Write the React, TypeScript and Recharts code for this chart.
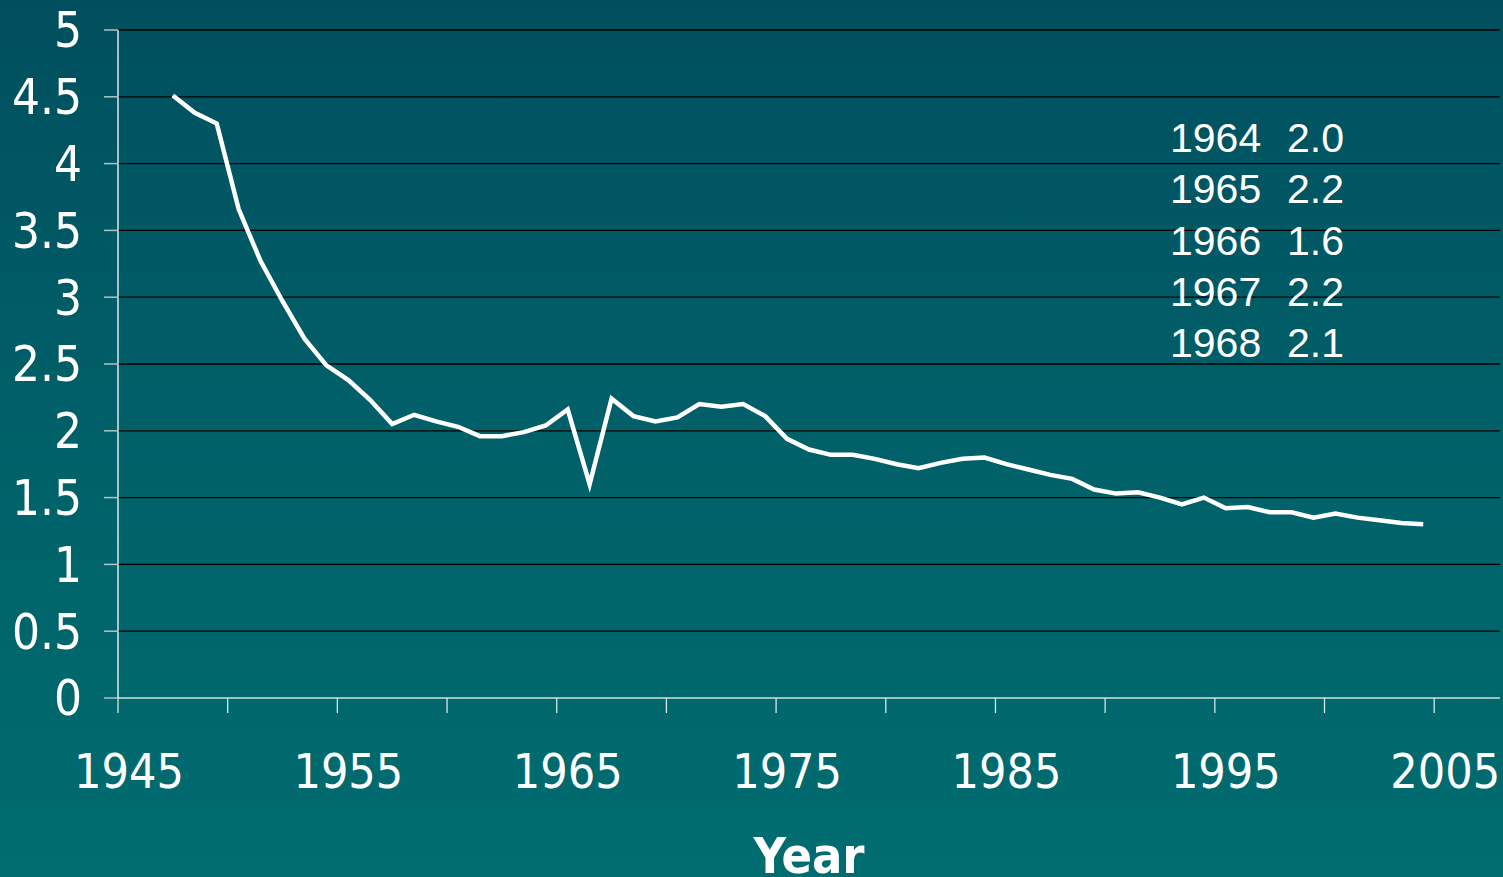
import { LineChart, Line, XAxis, YAxis, CartesianGrid } from "recharts";

// total fertility rate by year
const years = [
  1947, 1948, 1949, 1950, 1951, 1952, 1953, 1954, 1955, 1956,
  1957, 1958, 1959, 1960, 1961, 1962, 1963, 1964, 1965, 1966,
  1967, 1968, 1969, 1970, 1971, 1972, 1973, 1974, 1975, 1976,
  1977, 1978, 1979, 1980, 1981, 1982, 1983, 1984, 1985, 1986,
  1987, 1988, 1989, 1990, 1991, 1992, 1993, 1994, 1995, 1996,
  1997, 1998, 1999, 2000, 2001, 2002, 2003, 2004,
];
const rates = [
  4.51, 4.38, 4.3, 3.66, 3.27, 2.97, 2.69, 2.49, 2.38, 2.23,
  2.05, 2.12, 2.07, 2.03, 1.96, 1.96, 1.99, 2.04, 2.16, 1.6,
  2.24, 2.11, 2.07, 2.1, 2.2, 2.18, 2.2, 2.11, 1.94, 1.86,
  1.82, 1.82, 1.79, 1.75, 1.72, 1.76, 1.79, 1.8, 1.75, 1.71,
  1.67, 1.64, 1.56, 1.53, 1.54, 1.5, 1.45, 1.5, 1.42, 1.43,
  1.39, 1.39, 1.35, 1.38, 1.35, 1.33, 1.31, 1.3,
];

const xTicks = [1945, 1950, 1955, 1960, 1965, 1970, 1975, 1980, 1985, 1990, 1995, 2000, 2005];
const xLabels = [1945, 1955, 1965, 1975, 1985, 1995, 2005];
const yTicks = [0, 0.5, 1, 1.5, 2, 2.5, 3, 3.5, 4, 4.5, 5];

const noteYears = ["1964", "1965", "1966", "1967", "1968"];
const noteValues = ["2.0", "2.2", "1.6", "2.2", "2.1"];

// each year sits in the middle of its slot
const data = years.map((y, i) => ({ x: y + 0.5, rate: rates[i] }));

const FONT = "'DejaVu Sans Condensed', Tahoma, 'DejaVu Sans', sans-serif";

function XTick(props: any) {
  const { x, y, payload } = props;
  if (!xLabels.includes(payload.value)) return null;
  return (
    <text x={x + 11} y={y} dy={73} textAnchor="middle" fill="#fff" fontSize={48} fontFamily={FONT}>
      {payload.value}
    </text>
  );
}

function YearLabel(props: any) {
  const vb = props.viewBox;
  return (
    <text
      x={vb.x + vb.width / 2}
      y={vb.y + 175}
      textAnchor="middle"
      fill="#fff"
      fontSize={50}
      fontWeight="bold"
      fontFamily={FONT}
    >
      Year
    </text>
  );
}

export default function App() {
  return (
    <div
      style={{
        position: "absolute",
        left: 0,
        top: 0,
        width: 1503,
        height: 877,
        background: "linear-gradient(to bottom, #004f5e 0%, #005f68 45%, #006d70 100%)",
        overflow: "hidden",
      }}
    >
      <LineChart width={1503} height={877} data={data} margin={{ top: 30, right: 3, bottom: 0, left: 0 }}>
        <CartesianGrid vertical={false} stroke="#000" strokeWidth={1.3} />
        <XAxis
          type="number"
          dataKey="x"
          domain={[1945, 2008]}
          ticks={xTicks}
          interval={0}
          height={179}
          tickSize={15}
          axisLine={{ stroke: "#9cc2c2", strokeWidth: 2 }}
          tickLine={{ stroke: "#d6e6e6", strokeWidth: 1.3 }}
          tick={<XTick />}
          label={<YearLabel />}
        />
        <YAxis
          type="number"
          domain={[0, 5]}
          ticks={yTicks}
          interval={0}
          width={118}
          tickSize={14}
          tickMargin={22}
          axisLine={{ stroke: "#ffffff", strokeWidth: 1.3 }}
          tickLine={{ stroke: "#a9c6c8", strokeWidth: 1.5 }}
          tick={{ fill: "#fff", fontSize: 49, fontFamily: FONT }}
        />
        <Line
          type="linear"
          dataKey="rate"
          stroke="#ffffff"
          strokeWidth={4.5}
          dot={false}
          isAnimationActive={false}
        />
        <g>
          {noteYears.map((yr, i) => (
            <text
              key={yr}
              y={152 + i * 51.25}
              fill="#fff"
              fontSize={41}
              fontFamily="'Liberation Sans', Arial, sans-serif"
            >
              <tspan x={1170}>{yr}</tspan>
              <tspan x={1287}>{noteValues[i]}</tspan>
            </text>
          ))}
        </g>
      </LineChart>
    </div>
  );
}
